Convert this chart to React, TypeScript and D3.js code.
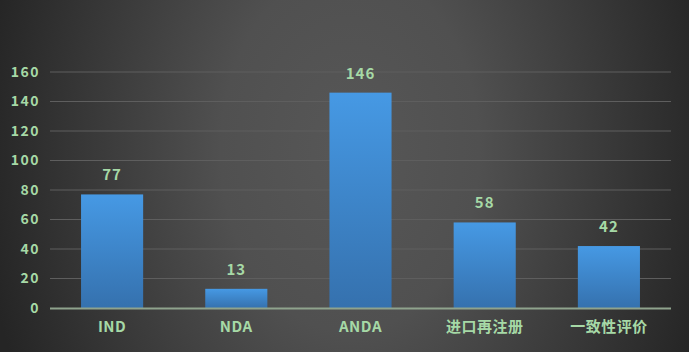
import React, { useEffect, useRef } from "react";
import * as d3 from "d3";

const categories = ["IND", "NDA", "ANDA", "进口再注册", "一致性评价"];
const counts = [77, 13, 146, 58, 42];
const yTicks = [0, 20, 40, 60, 80, 100, 120, 140, 160];

const App: React.FC = () => {
  const svgRef = useRef<SVGSVGElement | null>(null);

  useEffect(() => {
    const width = 689;
    const height = 352;
    const marginLeft = 50;
    const marginRight = 18;
    const marginTop = 72;
    const marginBottom = 44;
    const font = "'Noto Sans CJK SC', 'DejaVu Sans', sans-serif";
    const textColor = "#a6d9a6";

    const svg = d3.select(svgRef.current);
    svg.selectAll("*").remove();
    svg.attr("width", width).attr("height", height);

    const defs = svg.append("defs");
    const bg = defs
      .append("radialGradient")
      .attr("id", "bg")
      .attr("gradientUnits", "userSpaceOnUse")
      .attr("cx", 0)
      .attr("cy", 0)
      .attr("r", 1)
      .attr("gradientTransform", "translate(350,150) scale(370,520)");
    bg.append("stop").attr("offset", "0%").attr("stop-color", "#575757");
    bg.append("stop").attr("offset", "35%").attr("stop-color", "#505050");
    bg.append("stop").attr("offset", "100%").attr("stop-color", "#252525");

    const barGrad = defs
      .append("linearGradient")
      .attr("id", "bar")
      .attr("x1", 0)
      .attr("y1", 0)
      .attr("x2", 0)
      .attr("y2", 1);
    barGrad.append("stop").attr("offset", "0%").attr("stop-color", "#4699e4");
    barGrad.append("stop").attr("offset", "100%").attr("stop-color", "#3571ae");

    svg.append("rect").attr("width", width).attr("height", height).attr("fill", "url(#bg)");

    const x = d3
      .scaleBand()
      .domain(categories)
      .range([marginLeft, width - marginRight])
      .paddingInner(0.5)
      .paddingOuter(0.25);

    const y = d3
      .scaleLinear()
      .domain([0, 160])
      .range([height - marginBottom, marginTop]);

    // 网格线
    svg
      .append("g")
      .selectAll("line")
      .data(yTicks.filter((d) => d > 0))
      .enter()
      .append("line")
      .attr("x1", marginLeft)
      .attr("x2", width - marginRight)
      .attr("y1", (d) => y(d))
      .attr("y2", (d) => y(d))
      .attr("stroke", "#5e5e5e")
      .attr("stroke-width", 1);

    // 柱子
    svg
      .append("g")
      .selectAll("rect")
      .data(counts)
      .enter()
      .append("rect")
      .attr("x", (_, i) => x(categories[i]) as number)
      .attr("y", (d) => y(d))
      .attr("width", x.bandwidth())
      .attr("height", (d) => y(0) - y(d))
      .attr("fill", "url(#bar)");

    // 数值标签
    svg
      .append("g")
      .selectAll("text")
      .data(counts)
      .enter()
      .append("text")
      .attr("x", (_, i) => (x(categories[i]) as number) + x.bandwidth() / 2)
      .attr("y", (d) => y(d) - 14)
      .attr("text-anchor", "middle")
      .attr("fill", textColor)
      .style("font", `bold 15px ${font}`)
      .style("letter-spacing", "1px")
      .text((d) => d);

    // x轴
    svg
      .append("line")
      .attr("x1", marginLeft)
      .attr("x2", width - marginRight)
      .attr("y1", y(0) + 0.5)
      .attr("y2", y(0) + 0.5)
      .attr("stroke", "#8fa38d")
      .attr("stroke-width", 2);

    svg
      .append("g")
      .selectAll("text")
      .data(categories)
      .enter()
      .append("text")
      .attr("x", (d) => (x(d) as number) + x.bandwidth() / 2)
      .attr("y", y(0) + 24)
      .attr("text-anchor", "middle")
      .attr("fill", textColor)
      .style("font", `bold 15px ${font}`)
      .style("letter-spacing", "0.5px")
      .text((d) => d);

    // y轴刻度
    svg
      .append("g")
      .selectAll("text")
      .data(yTicks)
      .enter()
      .append("text")
      .attr("x", 40)
      .attr("y", (d) => y(d))
      .attr("dy", "0.35em")
      .attr("text-anchor", "end")
      .attr("fill", textColor)
      .style("font", `bold 14px ${font}`)
      .style("letter-spacing", "1.5px")
      .text((d) => d);
  }, []);

  return (
    <div style={{ position: "absolute", left: 0, top: 0 }}>
      <svg ref={svgRef} style={{ display: "block" }}></svg>
    </div>
  );
};

export default App;
